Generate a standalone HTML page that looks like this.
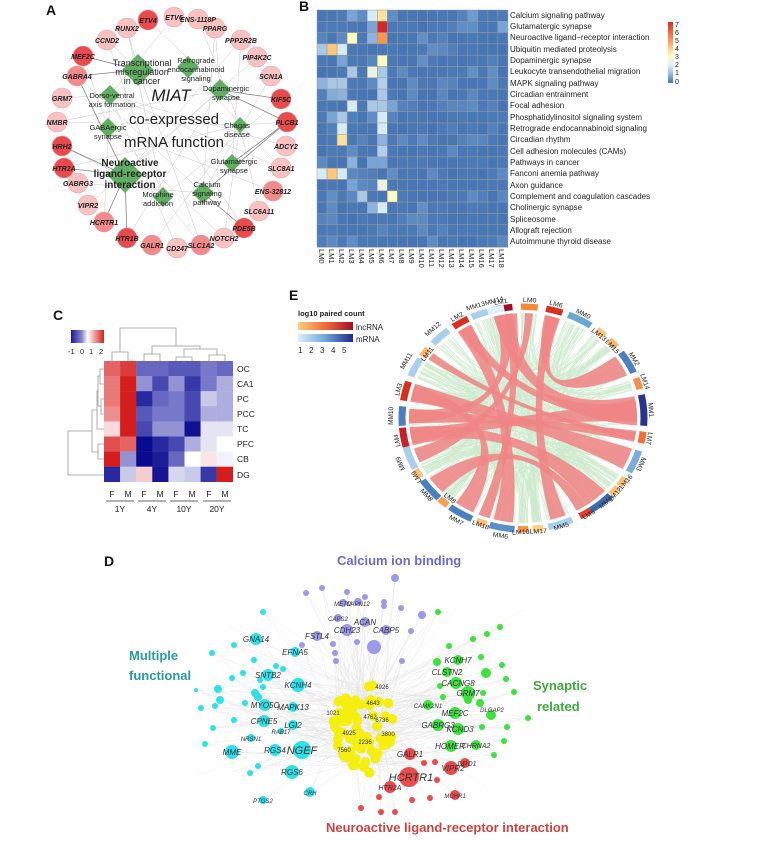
<!DOCTYPE html>
<html><head><meta charset="utf-8"><style>
html,body{margin:0;padding:0;background:#fff}
svg{display:block;font-family:"Liberation Sans",sans-serif}
</style></head><body>
<svg id="s" width="757" height="841" viewBox="0 0 757 841" xmlns="http://www.w3.org/2000/svg">
<defs>
<linearGradient id="gB" x1="0" y1="1" x2="0" y2="0"><stop offset="0" stop-color="#4575b4"/><stop offset=".15" stop-color="#91bfdb"/><stop offset=".3" stop-color="#e0f3f8"/><stop offset=".45" stop-color="#ffffbf"/><stop offset=".65" stop-color="#fdae61"/><stop offset="1" stop-color="#d73027"/></linearGradient>
<linearGradient id="gC"><stop offset="0" stop-color="#1a1a9a"/><stop offset=".33" stop-color="#8888cc"/><stop offset=".5" stop-color="#ffffff"/><stop offset="1" stop-color="#d42020"/></linearGradient>
<linearGradient id="gL"><stop offset="0" stop-color="#fdd07a"/><stop offset=".5" stop-color="#f06a3a"/><stop offset="1" stop-color="#a50f25"/></linearGradient>
<linearGradient id="gM"><stop offset="0" stop-color="#dff0fa"/><stop offset=".5" stop-color="#6aa6d6"/><stop offset="1" stop-color="#1f2a8a"/></linearGradient>
</defs>
<g id="A"></g><g id="B"></g><g id="C"></g><g id="E"></g><g id="D"></g>

<g font-weight="bold" font-size="14" fill="#111">
<text x="46" y="15">A</text><text x="299" y="11">B</text><text x="53" y="320">C</text><text x="289" y="300">E</text><text x="104" y="566">D</text>
</g>

<g font-size="7" font-style="italic" font-weight="bold" fill="#222" text-anchor="middle">
<text x="127" y="31">RUNX2</text><text x="148" y="23">ETV4</text><text x="174" y="20">ETV6</text><text x="198" y="22">ENS-1118P</text>
<text x="215" y="31">PPARG</text><text x="241" y="43">PPP2R2B</text><text x="257" y="60">PIP4K2C</text><text x="271" y="79">SCN1A</text>
<text x="281" y="102">KIF5C</text><text x="287" y="125">PLCB1</text><text x="286" y="149">ADCY2</text><text x="281" y="171">SLC8A1</text>
<text x="273" y="194">ENS-32812</text><text x="259" y="214">SLC6A11</text><text x="244" y="231">PDE5B</text><text x="224" y="241">NOTCH2</text>
<text x="201" y="248">SLC1A2</text><text x="177" y="251">CD247</text><text x="152" y="248">GALR1</text><text x="127" y="241">HTR1B</text>
<text x="104" y="225">HCRTR1</text><text x="88" y="208">VIPR2</text><text x="78" y="186">GABRG3</text><text x="64" y="171">HTR2A</text>
<text x="62" y="149">HRH2</text><text x="57" y="125">NMBR</text><text x="62" y="101">GRM7</text><text x="77" y="79">GABRA4</text>
<text x="83" y="59">MEF2C</text><text x="107" y="43">CCND2</text>
</g>
<g font-size="7.5" fill="#222" text-anchor="middle">
<text x="142" y="66" font-size="9">Transcriptional</text><text x="142" y="75" font-size="9">misregulation</text><text x="142" y="84" font-size="9">in cancer</text>
<text x="196" y="63">Retrograde</text><text x="196" y="72">endocannabinoid</text><text x="196" y="81">signaling</text>
<text x="226" y="91">Dopaminergic</text><text x="226" y="100">synapse</text>
<text x="112" y="98">Dorso-ventral</text><text x="112" y="107">axis formation</text>
<text x="108" y="130">GABAergic</text><text x="108" y="139">synapse</text>
<text x="237" y="128">Chagas</text><text x="237" y="137">disease</text>
<text x="130" y="166" font-size="10" font-weight="bold">Neuroactive</text><text x="130" y="177" font-size="10" font-weight="bold">ligand-receptor</text><text x="130" y="188" font-size="10" font-weight="bold">interaction</text>
<text x="234" y="164">Glutamatergic</text><text x="234" y="173">synapse</text>
<text x="207" y="187">Calcium</text><text x="207" y="196">signaling</text><text x="207" y="205">pathway</text>
<text x="158" y="197">Morphine</text><text x="158" y="206">addiction</text>
<text x="171" y="101" font-size="17" font-style="italic">MIAT</text>
<text x="174" y="124" font-size="15">co-expressed</text>
<text x="174" y="147" font-size="15">mRNA function</text>
</g>

<g font-size="8" fill="#222">
<text x="510" y="18">Calcium signaling pathway</text><text x="510" y="29">Glutamatergic synapse</text><text x="510" y="40">Neuroactive ligand−receptor interaction</text>
<text x="510" y="52">Ubiquitin mediated proteolysis</text><text x="510" y="63">Dopaminergic synapse</text><text x="510" y="74">Leukocyte transendothelial migration</text>
<text x="510" y="86">MAPK signaling pathway</text><text x="510" y="97">Circadian entrainment</text><text x="510" y="108">Focal adhesion</text>
<text x="510" y="120">Phosphatidylinositol signaling system</text><text x="510" y="131">Retrograde endocannabinoid signaling</text><text x="510" y="142">Circadian rhythm</text>
<text x="510" y="154">Cell adhesion molecules (CAMs)</text><text x="510" y="165">Pathways in cancer</text><text x="510" y="176">Fanconi anemia pathway</text>
<text x="510" y="188">Axon guidance</text><text x="510" y="199">Complement and coagulation cascades</text><text x="510" y="210">Cholinergic synapse</text>
<text x="510" y="222">Spliceosome</text><text x="510" y="233">Allograft rejection</text><text x="510" y="244">Autoimmune thyroid disease</text>
</g>
<g font-size="7.5" fill="#222">
<text transform="translate(319,249) rotate(90)">LM0</text><text transform="translate(329,249) rotate(90)">LM1</text><text transform="translate(339,249) rotate(90)">LM2</text>
<text transform="translate(349,249) rotate(90)">LM3</text><text transform="translate(359,249) rotate(90)">LM4</text><text transform="translate(369,249) rotate(90)">LM5</text>
<text transform="translate(379,249) rotate(90)">LM6</text><text transform="translate(389,249) rotate(90)">LM7</text><text transform="translate(399,249) rotate(90)">LM8</text>
<text transform="translate(409,249) rotate(90)">LM9</text><text transform="translate(419,249) rotate(90)">LM10</text><text transform="translate(429,249) rotate(90)">LM11</text>
<text transform="translate(439,249) rotate(90)">LM12</text><text transform="translate(449,249) rotate(90)">LM13</text><text transform="translate(459,249) rotate(90)">LM14</text>
<text transform="translate(469,249) rotate(90)">LM15</text><text transform="translate(479,249) rotate(90)">LM16</text><text transform="translate(489,249) rotate(90)">LM17</text>
<text transform="translate(499,249) rotate(90)">LM18</text>
</g>
<rect x="668" y="22" width="5" height="61" fill="url(#gB)"/>
<g font-size="7" fill="#222"><text x="675" y="27">7</text><text x="675" y="35">6</text><text x="675" y="43">5</text><text x="675" y="51">4</text><text x="675" y="59">3</text><text x="675" y="67">2</text><text x="675" y="75">1</text><text x="675" y="84">0</text></g>

<rect x="71" y="330" width="33" height="13" fill="url(#gC)"/>
<g font-size="7.5" fill="#222"><text x="68" y="354">-1</text><text x="80" y="354">0</text><text x="89" y="354">1</text><text x="99" y="354">2</text></g>
<g font-size="8.5" fill="#222">
<text x="237" y="372">OC</text><text x="237" y="387">CA1</text><text x="237" y="402">PC</text><text x="237" y="417">PCC</text>
<text x="237" y="432">TC</text><text x="237" y="447">PFC</text><text x="237" y="462">CB</text><text x="237" y="478">DG</text>
</g>
<g font-size="8.5" fill="#222" text-anchor="middle">
<text x="112" y="497">F</text><text x="128" y="497">M</text><text x="144" y="497">F</text><text x="160" y="497">M</text>
<text x="176" y="497">F</text><text x="192" y="497">M</text><text x="209" y="497">F</text><text x="225" y="497">M</text>
<text x="120" y="512">1Y</text><text x="152" y="512">4Y</text><text x="184" y="512">10Y</text><text x="217" y="512">20Y</text>
</g>
<g stroke="#333" stroke-width=".8"><line x1="106" y1="501" x2="134" y2="501"/><line x1="138" y1="501" x2="166" y2="501"/><line x1="170" y1="501" x2="198" y2="501"/><line x1="203" y1="501" x2="231" y2="501"/></g>

<text x="298" y="316" font-size="7.5" font-weight="bold" fill="#222">log10 paired count</text>
<rect x="298" y="322" width="55" height="8" fill="url(#gL)"/><rect x="298" y="334" width="55" height="8" fill="url(#gM)"/>
<g font-size="8" fill="#222"><text x="356" y="330">lncRNA</text><text x="356" y="342">mRNA</text>
<text x="298" y="353">1</text><text x="309" y="353">2</text><text x="320" y="353">3</text><text x="331" y="353">4</text><text x="342" y="353">5</text></g>
<g font-size="7" fill="#222" text-anchor="middle" transform="translate(523,418) scale(1,0.92)">
<text transform="rotate(-10) translate(0,-126)">LM1</text><text transform="rotate(3) translate(0,-126)">LM0</text><text transform="rotate(15) translate(0,-126)">LM6</text>
<text transform="rotate(28) translate(0,-126)">MM0</text><text transform="rotate(40) translate(0,-116)">LM13</text><text transform="rotate(49) translate(0,-116)">LM15</text>
<text transform="rotate(60) translate(0,-126)">MM2</text><text transform="rotate(72) translate(0,-126)">LM14</text><text transform="rotate(86) translate(0,-126)">MM1</text>
<text transform="rotate(100) translate(0,-126)">LM7</text><text transform="rotate(113) translate(0,-126)">MM3</text>
<text transform="rotate(128) translate(0,-126) rotate(180)">LM12LM16</text><text transform="rotate(138) translate(0,-126) rotate(180)">MM4</text>
<text transform="rotate(148) translate(0,-126) rotate(180)">LM5</text><text transform="rotate(162) translate(0,-126) rotate(180)">MM5</text>
<text transform="rotate(177) translate(0,-126) rotate(180)">LM10LM17</text><text transform="rotate(190) translate(0,-132) rotate(180)">MM6</text>
<text transform="rotate(200) translate(0,-126) rotate(180)">LM18</text><text transform="rotate(211) translate(0,-132) rotate(180)">MM7</text>
<text transform="rotate(220) translate(0,-116) rotate(180)">LM8</text><text transform="rotate(229) translate(0,-130) rotate(180)">MM8</text>
<text transform="rotate(239) translate(0,-122)">LM9</text><text transform="rotate(248) translate(0,-130)">MM9</text>
<text transform="rotate(259) translate(0,-126)">LM4</text><text transform="rotate(271) translate(0,-130)">MM10</text>
<text transform="rotate(284) translate(0,-126)">LM3</text><text transform="rotate(298) translate(0,-130)">MM11</text>
<text transform="rotate(306) translate(0,-116)">LM11</text><text transform="rotate(317) translate(0,-130)">MM12</text>
<text transform="rotate(329) translate(0,-126)">LM2</text><text transform="rotate(343) translate(0,-128)">MM13MM14</text>
</g>

<g font-weight="bold" font-size="13">
<text x="337" y="565" fill="#6a6ac8">Calcium ion binding</text>
<text x="129" y="660" fill="#2a9aa0">Multiple</text><text x="129" y="680" fill="#2a9aa0">functional</text>
<text x="533" y="690" fill="#3ea83e">Synaptic</text><text x="537" y="711" fill="#3ea83e">related</text>
<text x="326" y="832" fill="#c84444">Neuroactive ligand-receptor interaction</text>
</g>
<g id="Dlab" font-size="8" font-style="italic" fill="#333" text-anchor="middle">
<text x="256" y="642">GNA14</text><text x="295" y="655">EFNA5</text><text x="298" y="688">KCNH4</text><text x="268" y="678">SNTB2</text>
<text x="265" y="708">MYO5C</text><text x="293" y="710">MAPK13</text><text x="264" y="724">CPNE5</text><text x="293" y="728">LGI2</text>
<text x="281" y="734" font-size="6">RAB17</text><text x="251" y="741" font-size="6">NRSN1</text><text x="302" y="754" font-size="11">NGEF</text>
<text x="275" y="753">RGS4</text><text x="232" y="755">MME</text><text x="292" y="775">RGS6</text><text x="310" y="795" font-size="6">CRH</text>
<text x="263" y="803" font-size="6">PTGS2</text><text x="347" y="633">CDH23</text><text x="317" y="639">FSTL4</text><text x="365" y="625">ACAN</text>
<text x="386" y="633">CABP5</text><text x="338" y="621" font-size="6">CAPS2</text><text x="343" y="606" font-size="6">METM</text><text x="358" y="606" font-size="6">CAPN12</text>
<text x="458" y="663">KCNH7</text><text x="447" y="675">CLSTN2</text><text x="458" y="686">CACNG8</text><text x="468" y="696">GRM7</text>
<text x="455" y="716">MEF2C</text><text x="428" y="708" font-size="6">CAMK2N1</text><text x="438" y="728">GABRG3</text><text x="460" y="732">KCND3</text>
<text x="450" y="749">HOMER</text><text x="476" y="748" font-size="7">CHRNA2</text><text x="492" y="712" font-size="6">DLGAP2</text>
<text x="410" y="757">GALR1</text><text x="411" y="781" font-size="11">HCRTR1</text><text x="453" y="771">VIPR2</text><text x="467" y="766" font-size="7">DRD1</text>
<text x="390" y="790" font-size="7">HTR2A</text><text x="455" y="798" font-size="6">MCHR1</text>
<text x="382" y="689" font-size="6" font-style="normal">4926</text><text x="373" y="705" font-size="6" font-style="normal">4643</text>
<text x="333" y="715" font-size="6" font-style="normal">1021</text><text x="370" y="719" font-size="6" font-style="normal">4762</text>
<text x="382" y="722" font-size="6" font-style="normal">6736</text><text x="349" y="735" font-size="6" font-style="normal">4925</text>
<text x="388" y="736" font-size="6" font-style="normal">3800</text><text x="365" y="744" font-size="6" font-style="normal">2236</text>
<text x="344" y="752" font-size="6" font-style="normal">7560</text>
</g>
</svg>
<script>
var NS="http://www.w3.org/2000/svg";
function el(p,t,a){var e=document.createElementNS(NS,t);for(var k in a)e.setAttribute(k,a[k]);p.appendChild(e);return e;}
var seed=7;function rnd(){seed=(seed*16807)%2147483647;return (seed-1)/2147483646;}
function lerp(a,b,t){return Math.round(a+(b-a)*t);}
function cmap(stops,v){for(var i=0;i<stops.length-1;i++){var s0=stops[i],s1=stops[i+1];if(v<=s1[0]){var t=(v-s0[0])/(s1[0]-s0[0]);return "rgb("+lerp(s0[1],s1[1],t)+","+lerp(s0[2],s1[2],t)+","+lerp(s0[3],s1[3],t)+")";}}var l=stops[stops.length-1];return "rgb("+l[1]+","+l[2]+","+l[3]+")";}

var A=document.getElementById("A");
var nodes=[[127,28,2],[148,20,0],[174,17,2],[198,19,2],[215,28,2],[241,40,2],[257,57,2],[271,76,2],[281,99,0],[287,122,0],[286,146,2],[281,168,2],[273,191,1],[259,211,2],[244,228,0],[224,238,2],[201,245,1],[177,248,2],[152,245,1],[127,238,0],[104,222,1],[88,205,2],[78,183,2],[64,168,0],[62,146,0],[57,122,2],[62,98,2],[77,76,1],[83,56,0],[107,40,2]];
var dia=[[138,70,16],[188,67,11],[220,90,11],[110,95,10],[108,128,10],[240,125,8],[125,175,18],[232,163,9],[203,193,11],[163,197,10]];
var gl=el(A,"g",{stroke:"#bbb","stroke-width":".5",opacity:".8"});
for(var i=0;i<nodes.length;i++){var k=Math.floor(rnd()*dia.length);el(gl,"line",{x1:nodes[i][0],y1:nodes[i][1],x2:dia[k][0],y2:dia[k][1]});var k2=Math.floor(rnd()*dia.length);if(rnd()<.4)el(gl,"line",{x1:nodes[i][0],y1:nodes[i][1],x2:dia[k2][0],y2:dia[k2][1]});}
[[6,23],[6,24],[6,27],[6,20],[6,19],[8,9],[8,14],[2,9],[2,8],[7,9],[0,28],[0,27]].forEach(function(p){var d=dia[p[0]],n=nodes[p[1]];el(gl,"line",{x1:d[0],y1:d[1],x2:n[0],y2:n[1],stroke:"#666","stroke-width":".8"});});
var cols=["#e84a4d","#f28a8c","#f8c2c2"];
nodes.forEach(function(n){el(A,"circle",{cx:n[0],cy:n[1],r:10,fill:cols[n[2]],stroke:"#e9a0a0","stroke-width":".6"});});
dia.forEach(function(d){var s=d[2];el(A,"polygon",{points:(d[0])+","+(d[1]-s)+" "+(d[0]+s)+","+d[1]+" "+d[0]+","+(d[1]+s)+" "+(d[0]-s)+","+d[1],fill:"#5aaa5a",opacity:".95"});});

var B=document.getElementById("B");
var bst=[[0,69,117,180],[1,120,165,215],[2,215,235,245],[3,255,250,190],[4,253,200,120],[5,250,150,80],[6,240,90,60],[7,215,40,40]];
var hot={"0,5":2,"0,6":3.5,"0,3":1,"0,15":.8,"1,6":7,"1,5":1,"1,18":1,"2,3":3,"2,6":5,"2,5":1.2,"3,1":4,"3,2":2,"3,0":1.5,"4,6":3,"4,2":1,"5,5":2.5,"5,3":1.5,"5,6":1.5,"6,1":1.5,"6,2":1.5,"6,6":1.6,"6,0":1.2,"7,1":1.1,"7,2":1.2,"7,6":1.5,"8,3":2,"8,5":1.5,"8,6":1.5,"8,7":1,"9,1":1,"9,2":1.5,"9,6":2,"10,2":2,"10,6":2,"11,2":3.5,"11,6":1.2,"12,6":1.6,"13,3":1.2,"13,5":1,"13,6":1,"14,1":4,"14,2":2,"14,0":2,"15,6":2.5,"15,3":1,"16,4":1.5,"16,7":3,"17,5":1.2,"17,6":2};
for(var r=0;r<21;r++)for(var c=0;c<19;c++){var v=hot[r+","+c];if(v===undefined)v=rnd()<.8?rnd()*.12:.2+rnd()*.35;el(B,"rect",{x:317+c*10.05,y:10+r*11.3,width:10.05,height:11.3,fill:cmap(bst,v),stroke:"#9a9a9a","stroke-width":".5"});}

var C=document.getElementById("C");
var M=[[1.3,1.7,-.6,-.6,-.7,-.7,-.5,-.6],[1.1,2,-.4,-.8,-.4,-.9,-.5,-.3],[1.1,2,-1,-.6,-.5,-.8,-.2,-.3],[.9,2,-.7,-.5,-.5,-.8,-.3,-.3],[.3,2,-.8,-.4,-.4,-1.4,-.1,-.1],[1.5,1.3,-1.5,-1,-.8,-.3,-.1,0],[2,-.4,-1.5,-1.2,-.6,0,.2,-.05],[-1,-.2,.4,-1.3,-.15,-.2,-.9,2]];
var cst=[[-1.5,10,10,140],[-1,40,40,160],[-.5,120,120,200],[0,255,255,255],[1,235,130,130],[2,212,30,30]];
for(var r=0;r<8;r++)for(var c=0;c<8;c++)el(C,"rect",{x:104+c*16.1,y:361+r*15.1,width:16.3,height:15.3,fill:cmap(cst,M[r][c])});
var dg=el(C,"g",{stroke:"#999",fill:"none","stroke-width":".8"});
["M112,361V352H128V361","M144,361V354H160V361","M176,361V357H192V361","M209,361V355H225V361","M184,357V349H217V355","M152,354V346H200V349","M120,352V328H176V346",
 "M104,369H100V384H104","M104,399H101V414H104","M100,376H98V406H101","M104,429H97V391H98","M104,444H98V459H104","M97,410H92V452H98","M104,475H68V431H92"].forEach(function(d){el(dg,"path",{d:d});});

var E=el(document.getElementById("E"),"g",{transform:"translate(523,418) scale(1,0.92)"});
var R=118;
function P(a,r){var t=(a-90)*Math.PI/180;return [r*Math.cos(t),r*Math.sin(t)];}
var segs=[[-10,5,"#a50f25"],[3,4,"#f58a3a"],[15,4,"#d7301f"],[28,6,"#6aa6d6"],[40,2.5,"#fdc27a"],[48,2.5,"#fdb36a"],[60,6,"#4a7fc0"],[72,3,"#f59050"],[86,8,"#27338f"],[100,3,"#f0703a"],[113,6,"#7aaed8"],[125,2.5,"#fdc27a"],[131,2.5,"#fdc27a"],[140,6,"#3a6ab0"],[149,3,"#e0402a"],[162,6,"#a8d0ea"],[173,2.5,"#fdd080"],[180,2.5,"#f8904a"],[190,6,"#5a8ec8"],[200,2.5,"#fdc27a"],[211,6,"#4a7fc0"],[221,2.5,"#f8a050"],[230,6,"#4a7fc0"],[240,2.5,"#fdc27a"],[249,6,"#a8d0ea"],[260,5,"#c8202a"],[271,5,"#4a7fc0"],[284,5,"#d7301f"],[297,5,"#a8d0ea"],[306,2.5,"#fdb36a"],[317,5,"#a8d0ea"],[329,4,"#d7301f"],[339,4,"#a8d0ea"],[347,4,"#dff0fa"]];
var gg=el(E,"g",{stroke:"#8fd08f","stroke-width":".4",fill:"none",opacity:".45"});
for(var i=0;i<700;i++){var s1=segs[Math.floor(rnd()*segs.length)],s2=segs[Math.floor(rnd()*segs.length)];if(s1===s2)continue;var a1=s1[0]+(rnd()-.5)*2*s1[1],a2=s2[0]+(rnd()-.5)*2*s2[1];var p1=P(a1,R-4),p2=P(a2,R-4);el(gg,"path",{d:"M"+p1+"Q0,0 "+p2});}
function arcp(a,w,r){var p=P(a-w,r),q=P(a+w,r);return [p,q];}
var rib=[[-10,86,5,8],[-10,271,4,4],[329,190,4,5],[15,60,4,6],[284,113,5,6],[260,140,5,6],[260,86,4,6],[271,100,4,3],[284,211,4,5],[149,230,3,5],[329,86,3,5],[-6,200,3,3],[3,249,2,4],[15,162,3,4],[306,100,2,2]];
rib.forEach(function(b){var A1=arcp(b[0],b[2],R-4),A2=arcp(b[1],b[3],R-4);el(E,"path",{d:"M"+A1[0]+"A"+(R-4)+","+(R-4)+" 0 0 1 "+A1[1]+"Q0,0 "+A2[0]+"A"+(R-4)+","+(R-4)+" 0 0 1 "+A2[1]+"Q0,0 "+A1[0]+"Z",fill:"#ef8585",opacity:".88"});});
segs.forEach(function(s){var a=arcp(s[0],s[1],R+3);el(E,"path",{d:"M"+a[0]+"A"+(R+3)+","+(R+3)+" 0 0 1 "+a[1],stroke:s[2],"stroke-width":7,fill:"none"});});

var D=document.getElementById("D");
var cyan=[[256,639,6],[295,652,5],[298,685,7],[268,675,6],[265,705,6],[293,707,5],[264,721,6],[293,725,5],[281,731,3],[251,738,4],[302,750,9],[275,750,6],[232,752,7],[292,772,7],[310,792,5],[263,800,4],[218,689,4],[220,700,4],[255,693,4],[260,680,3],[283,669,3],[254,660,3],[234,645,3],[212,653,3],[232,678,3],[215,706,3],[201,708,3],[245,703,3],[258,697,4],[234,720,3],[213,728,3],[205,744,3],[258,766,3],[250,773,3],[263,687,3],[243,673,3],[263,612,3],[196,690,2],[276,666,3]];
var purp=[[347,630,6],[317,636,5],[365,622,5],[386,630,5],[338,618,4],[374,647,7],[395,578,4],[422,615,4],[343,603,4],[358,602,4],[322,588,3],[306,593,3],[347,592,3],[365,597,3],[384,602,3],[401,608,3],[411,631,3],[357,642,3],[333,644,3],[335,653,3],[336,661,3],[302,645,3],[402,661,3],[384,606,3]];
var green=[[458,660,5],[447,672,5],[456,683,6],[468,693,7],[455,713,6],[428,705,5],[438,725,6],[458,729,6],[451,746,6],[476,745,5],[491,715,5],[486,673,5],[437,662,4],[449,646,3],[473,639,3],[487,634,3],[500,627,3],[481,657,3],[502,665,3],[506,679,3],[514,692,3],[528,718,3],[507,727,3],[504,741,3],[494,755,3],[468,700,4],[480,703,4],[482,727,3],[483,693,3],[440,686,3],[443,697,3],[438,612,3]];
var red=[[409,777,10],[410,754,6],[451,768,7],[465,763,5],[390,787,6],[455,795,5],[424,763,3],[435,762,3],[437,780,3],[412,800,3],[430,798,3],[379,797,3],[361,808,3],[381,812,3],[395,812,3]];
var cx0=363,cy0=728;
var eg=el(D,"g",{stroke:"#ccc","stroke-width":".3",opacity:".6"});
var all=cyan.concat(purp,green,red);
all.forEach(function(n){for(var j=0;j<3;j++){el(eg,"line",{x1:n[0],y1:n[1],x2:cx0+(rnd()-.5)*50,y2:cy0+(rnd()-.5)*80});}});
for(var i=0;i<25;i++){el(eg,"line",{x1:cx0+(rnd()-.5)*40,y1:cy0+(rnd()-.5)*70,x2:190+rnd()*340,y2:600+rnd()*200});}
function dots(arr,col){arr.forEach(function(n){el(D,"circle",{cx:n[0],cy:n[1],r:n[2],fill:col});});}
dots(cyan,"#2ee0ea");dots(purp,"#9c9ae8");dots(green,"#3ee23e");dots(red,"#ea4a4a");
for(var i=0;i<70;i++){var t=rnd()*Math.PI*2,rr=Math.sqrt(rnd());el(D,"circle",{cx:cx0+Math.cos(t)*rr*30,cy:cy0+Math.sin(t)*rr*46,r:5,fill:"#f5ef10"});}
var lab=document.getElementById("Dlab");lab.parentNode.appendChild(lab);
</script>
</body></html>
